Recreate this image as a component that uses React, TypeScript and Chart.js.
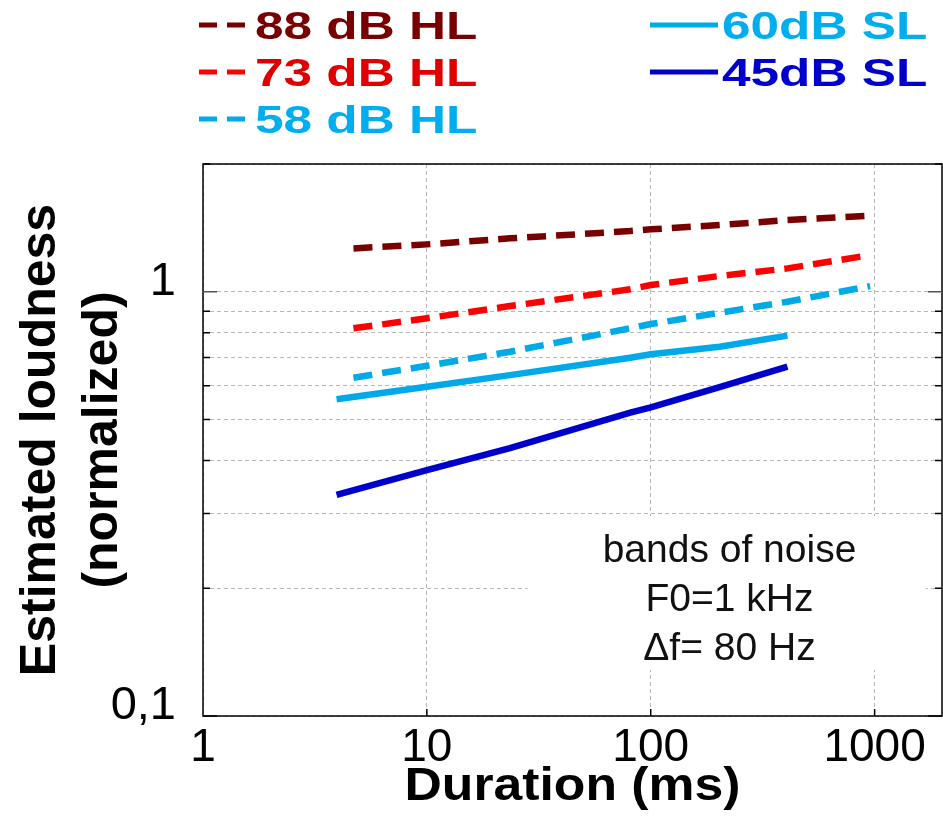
import React, { useEffect, useRef } from "react";
import { Chart, registerables } from "chart.js";

Chart.register(...registerables);

// ---------- data ----------
const seriesLabels = ["88 dB HL", "73 dB HL", "58 dB HL", "60dB SL", "45dB SL"];
const durationsHL = [4.7, 10, 23.5, 81, 100, 203, 408, 955];
const durationsSL = [3.95, 10, 23.5, 81, 100, 203, 408];
const loud88HL = [1.265, 1.293, 1.336, 1.39, 1.403, 1.436, 1.475, 1.51];
const loud73HL = [0.82, 0.866, 0.925, 1.013, 1.037, 1.089, 1.135, 1.22];
const loud58HL = [0.627, 0.669, 0.722, 0.82, 0.839, 0.892, 0.947, 1.031];
const loud60SL = [0.558, 0.597, 0.636, 0.699, 0.712, 0.742, 0.788];
const loud45SL = [0.332, 0.38, 0.428, 0.519, 0.534, 0.596, 0.666];

const lineColors = ["#780000", "#ff0000", "#00aae8", "#00aae8", "#0000cc"];
const legendTextColors = ["#780000", "#e00000", "#00aeef", "#00aeef", "#0000cc"];
const dashedSeries = [true, true, true, false, false];

const xTickValues = [1, 10, 100, 1000];
const xTickLabels = ["1", "10", "100", "1000"];
const yTickValues = [0.1, 0.2, 0.3, 0.4, 0.5, 0.6, 0.7, 0.8, 0.9, 1, 2];
const yLabelledValues = [0.1, 1];
const yLabelTexts = ["0,1", "1"];

const xTitle = "Duration (ms)";
const yTitleLines = ["Estimated loudness", "(normalized)"];
const annotationLines = ["bands of noise", "F0=1 kHz", "\u0394f= 80 Hz"];
const annotationCenterX = 218; // ms
const annotationTopY = 0.296; // loudness

const FONT = '"Liberation Sans", Arial, Helvetica, sans-serif';

const toPoints = (xs: number[], ys: number[]) => xs.map((x, i) => ({ x, y: ys[i] }));

const decorPlugin = {
  id: "decor",
  beforeDatasetsDraw(chart: any) {
    const { ctx, scales } = chart;
    const cx = scales.x.getPixelForValue(annotationCenterX);
    const top = scales.y.getPixelForValue(annotationTopY);
    ctx.save();
    ctx.fillStyle = "#ffffff";
    ctx.fillRect(cx - 199, top, 398, 154);
    ctx.fillStyle = "#111";
    ctx.font = `39px ${FONT}`;
    ctx.textAlign = "center";
    ctx.textBaseline = "alphabetic";
    annotationLines.forEach((t, i) => ctx.fillText(t, cx + 3, top + 46 + i * 49));
    ctx.restore();
  },
  afterDraw(chart: any) {
    const { ctx, chartArea, scales } = chart;
    const { left, right, top, bottom } = chartArea;
    ctx.save();
    // frame
    ctx.strokeStyle = "#000";
    ctx.lineWidth = 1.5;
    ctx.setLineDash([]);
    ctx.strokeRect(left, top, right - left, bottom - top);
    // inward ticks
    yTickValues.forEach((v) => {
      const py = scales.y.getPixelForValue(v);
      const len = v === 1 || v === 0.1 ? 14 : 7;
      ctx.strokeStyle = v === 1 ? "#555" : "#000";
      ctx.beginPath();
      ctx.moveTo(left, py);
      ctx.lineTo(left + len, py);
      ctx.moveTo(right, py);
      ctx.lineTo(right - len, py);
      ctx.stroke();
    });
    ctx.strokeStyle = "#000";
    xTickValues.slice(1).forEach((v) => {
      const px = scales.x.getPixelForValue(v);
      ctx.beginPath();
      ctx.moveTo(px, bottom);
      ctx.lineTo(px, bottom - 7);
      ctx.stroke();
    });

    // legend
    ctx.font = `bold 38px ${FONT}`;
    ctx.textAlign = "left";
    ctx.textBaseline = "alphabetic";
    chart.data.datasets.forEach((ds: any, i: number) => {
      const col = dashedSeries[i] ? 0 : 1;
      const row = col === 0 ? i : i - 3;
      const baseY = 39 + row * 47;
      const ly = baseY - 14;
      const x0 = col === 0 ? 199 : 650;
      const x1 = col === 0 ? 247 : 718;
      const tx = col === 0 ? 255 : 722;
      ctx.strokeStyle = lineColors[i];
      ctx.lineWidth = 5;
      ctx.lineCap = "butt";
      ctx.setLineDash(dashedSeries[i] ? [18, 10] : []);
      ctx.beginPath();
      ctx.moveTo(x0, ly);
      ctx.lineTo(x1, ly);
      ctx.stroke();
      ctx.setLineDash([]);
      ctx.save();
      ctx.translate(tx, baseY);
      ctx.scale(1.35, 1);
      ctx.fillStyle = legendTextColors[i];
      ctx.fillText(ds.label, 0, 0);
      ctx.restore();
    });

    // axis titles
    ctx.fillStyle = "#000";
    ctx.font = `bold 50px ${FONT}`;
    ctx.textAlign = "center";
    const cy = (top + bottom) / 2;
    [55, 117].forEach((bx, i) => {
      ctx.save();
      ctx.translate(bx, cy);
      ctx.rotate(-Math.PI / 2);
      ctx.fillText(yTitleLines[i], 0, 0);
      ctx.restore();
    });
    ctx.save();
    ctx.font = `bold 47px ${FONT}`;
    ctx.translate((left + right) / 2, 800);
    ctx.scale(1.1, 1);
    ctx.fillText(xTitle, 0, 0);
    ctx.restore();
    ctx.restore();
  },
};

export default function App() {
  const ref = useRef<HTMLCanvasElement | null>(null);
  useEffect(() => {
    if (!ref.current) return;
    const xsets = [durationsHL, durationsHL, durationsHL, durationsSL, durationsSL];
    const ysets = [loud88HL, loud73HL, loud58HL, loud60SL, loud45SL];
    const chart = new Chart(ref.current, {
      type: "line",
      data: {
        datasets: seriesLabels.map((label, i) => ({
          label,
          data: toPoints(xsets[i], ysets[i]),
          borderColor: lineColors[i],
          backgroundColor: lineColors[i],
          borderWidth: 6.5,
          borderDash: dashedSeries[i] ? [19, 10] : [],
          borderCapStyle: "butt" as const,
          pointRadius: 0,
          tension: 0,
          fill: false,
        })),
      },
      options: {
        animation: false,
        responsive: false,
        devicePixelRatio: 1,
        layout: { padding: { top: 164, right: 1, left: 0, bottom: 0 } },
        plugins: { legend: { display: false }, tooltip: { enabled: false }, title: { display: false } },
        scales: {
          x: {
            type: "logarithmic",
            min: 1,
            max: 2000,
            afterBuildTicks: (s: any) => {
              s.ticks = xTickValues.map((v) => ({ value: v }));
            },
            afterFit: (s: any) => {
              s.height = 107;
            },
            ticks: {
              autoSkip: false,
              maxRotation: 0,
              padding: 5,
              color: "#000",
              font: { family: FONT, size: 46 },
              callback: (v: any) => {
                const idx = xTickValues.indexOf(Number(v));
                return idx >= 0 ? xTickLabels[idx] : "";
              },
            },
            grid: { color: "#b8b8b8", lineWidth: 1, drawTicks: false },
            border: { display: false, dash: [4, 3] },
          },
          y: {
            type: "logarithmic",
            min: 0.1,
            max: 2,
            afterBuildTicks: (s: any) => {
              s.ticks = yTickValues.map((v) => ({ value: v }));
            },
            afterFit: (s: any) => {
              s.width = 203;
            },
            ticks: {
              autoSkip: false,
              padding: 27,
              labelOffset: -10,
              color: "#000",
              font: { family: FONT, size: 47 },
              callback: (v: any) => {
                const idx = yLabelledValues.findIndex((t) => Math.abs(t - Number(v)) < 1e-9);
                return idx >= 0 ? yLabelTexts[idx] : "";
              },
            },
            grid: { color: "#b8b8b8", lineWidth: 1, drawTicks: false },
            border: { display: false, dash: [4, 3] },
          },
        },
      },
      plugins: [decorPlugin],
    });
    return () => chart.destroy();
  }, []);
  return (
    <div style={{ position: "absolute", left: 0, top: 0, width: 943, height: 823, background: "#fff" }}>
      <canvas ref={ref} width={943} height={823} style={{ display: "block" }} />
    </div>
  );
}
